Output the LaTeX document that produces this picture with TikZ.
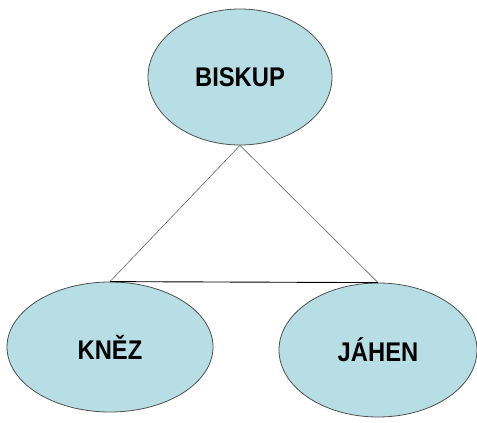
\documentclass[tikz,border=0pt]{standalone}
\usepackage{fontspec}
\setmainfont{Liberation Sans}
\newfontfamily\rankfont[FakeStretch=0.88]{Liberation Sans}
\usetikzlibrary{shapes.geometric}
\definecolor{ovalfill}{RGB}{183,222,228}
\definecolor{ovalline}{RGB}{80,80,80}
\tikzset{
  rank/.style = {ellipse, draw=ovalline, fill=ovalfill, line width=0.8pt, inner sep=0pt,
    font=\rankfont\fontsize{27}{30}\selectfont\bfseries},
  rank_link/.style = {draw=gray!80!black, line width=0.6pt},
  rank_base/.style = {draw=black, line width=0.9pt}
}
\begin{document}
\begin{tikzpicture}[x=1pt, y=-1pt]
  \useasboundingbox (0,0) rectangle (477,423);
  % top: bishop
  \node [rank, minimum width=184pt, minimum height=136pt] (biskup) at (240,77) {BISKUP};
  % bottom left: priest
  \node [rank, minimum width=206pt, minimum height=130pt] (knez) at (110,347) {KNĚZ};
  % bottom right: deacon
  \node [rank, minimum width=198pt, minimum height=134pt] (jahen) at (378,350) {JÁHEN};
  % triangle
  \draw [rank_link] (biskup.south) -- (knez.north);
  \draw [rank_link] (biskup.south) -- (jahen.north);
  \draw [rank_base] (knez.north) -- (jahen.north);
\end{tikzpicture}
\end{document}
